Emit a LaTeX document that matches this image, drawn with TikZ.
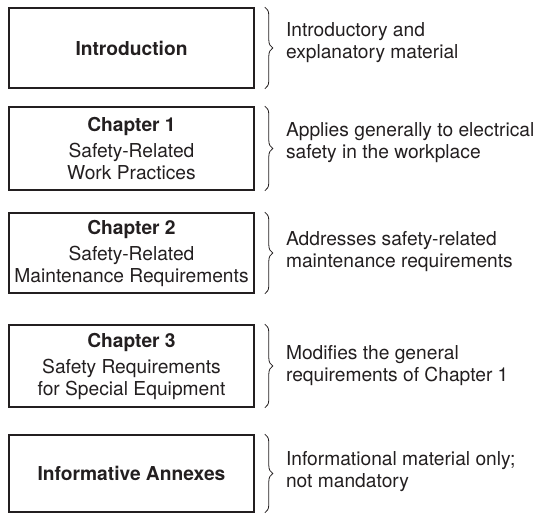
\documentclass[tikz,border=0pt]{standalone}
\usepackage{fontspec}
\setmainfont{TeX Gyre Heros}
\usetikzlibrary{decorations.pathreplacing,calc}
\definecolor{ink}{HTML}{231F20}
\begin{document}
\begin{tikzpicture}[x=0.75pt,y=-0.75pt,
  chapbox/.style={draw=ink,line width=1.2pt,minimum width=183.75pt,inner sep=0pt,align=center,text=ink,font=\fontsize{14.4}{16.5}\selectfont},
  bracestyle/.style={draw=ink,line width=0.6pt,decorate,decoration={brace,amplitude=6pt}},
  note/.style={anchor=west,inner sep=0pt,align=left,text=ink,font=\fontsize{14.4}{16.5}\selectfont}]
\useasboundingbox (0,0) rectangle (537,516);
\node[chapbox,minimum height=60pt] (b1) at (131.5,48) {\textbf{Introduction}};
\node[chapbox,minimum height=62.25pt] (b2) at (131.5,148.5) {\textbf{Chapter 1}\\[3pt]Safety-Related\\Work Practices};
\node[chapbox,minimum height=60pt] (b3) at (131.5,253) {\textbf{Chapter 2}\\[3pt]Safety-Related\\Maintenance Requirements};
\node[chapbox,minimum height=61.5pt] (b4) at (131.5,366) {\textbf{Chapter 3}\\[3pt]Safety Requirements\\for Special Equipment};
\node[chapbox,minimum height=57.75pt] (b5) at (131.5,473.5) {\textbf{Informative Annexes}};
\foreach \b in {b1,b2,b3,b4,b5}{
  \draw[bracestyle] ($(\b.north east)+(10,0)$) -- ($(\b.south east)+(10,0)$);
}
\node[note] (n1) at ($(b1.east)+(31,-5)$) {Introductory and\\explanatory material};
\node[note] (n2) at ($(b2.east)+(31,-6)$) {Applies generally to electrical\\safety in the workplace};
\node[note] (n3) at ($(b3.east)+(31,-1)$) {Addresses safety-related\\maintenance requirements};
\node[note] (n4) at ($(b4.east)+(31,0)$) {Modifies the general\\requirements of Chapter 1};
\node[note] (n5) at ($(b5.east)+(31,-2)$) {Informational material only;\\not mandatory};
\end{tikzpicture}
\end{document}
